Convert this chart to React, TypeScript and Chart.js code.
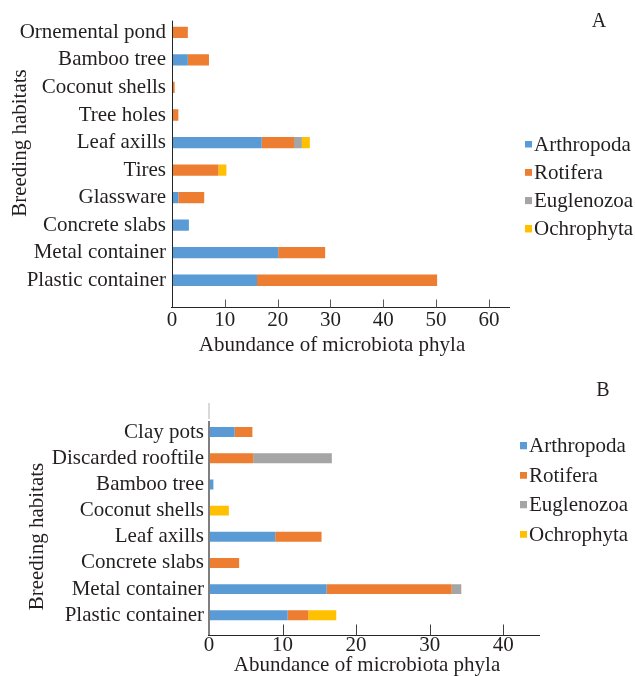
import React, { useEffect, useRef } from 'react';
import { Chart, registerables } from 'chart.js';

Chart.register(...registerables);

// ---------- data ----------
const phyla = ['Arthropoda', 'Rotifera', 'Euglenozoa', 'Ochrophyta'];
const phylumColors = ['#5B9BD5', '#ED7D31', '#A5A5A5', '#FFC000'];

const habitatsA = ['Ornemental pond', 'Bamboo tree', 'Coconut shells', 'Tree holes', 'Leaf axills', 'Tires', 'Glassware', 'Concrete slabs', 'Metal container', 'Plastic container'];
const arthropodaA = [0, 3, 0, 0, 17, 0, 1.2, 3.2, 20.1, 16.1];
const rotiferaA = [3, 4, 0.5, 1.2, 6.1, 8.8, 4.9, 0, 8.9, 34.1];
const euglenozoaA = [0, 0, 0, 0, 1.5, 0, 0, 0, 0, 0];
const ochrophytaA = [0, 0, 0, 0, 1.5, 1.5, 0, 0, 0, 0];
const xTicksA = [0, 10, 20, 30, 40, 50, 60];

const habitatsB = ['Clay pots', 'Discarded rooftile', 'Bamboo tree', 'Coconut shells', 'Leaf axills', 'Concrete slabs', 'Metal container', 'Plastic container'];
const arthropodaB = [3.5, 0, 0.6, 0, 9, 0, 16, 10.7];
const rotiferaB = [2.4, 6, 0, 0, 6.3, 4.1, 17, 2.8];
const euglenozoaB = [0, 10.7, 0, 0, 0, 0, 1.3, 0];
const ochrophytaB = [0, 0, 0, 2.7, 0, 0, 0, 3.8];
const xTicksB = [0, 10, 20, 30, 40];

const yTitle = 'Breeding habitats';
const xTitle = 'Abundance of microbiota phyla';

// ---------- styling ----------
const FONT = "'Liberation Serif', 'Times New Roman', serif";
const TEXT = '#231F20';
Chart.defaults.font.family = FONT;
Chart.defaults.color = TEXT;

// small square legend marker, sitting right next to the label text
function markerImage(color: string) {
  const c = document.createElement('canvas');
  c.width = 20;
  c.height = 9;
  const g = c.getContext('2d') as CanvasRenderingContext2D;
  g.fillStyle = color;
  g.fillRect(12, 0, 7, 7);
  return c;
}

// places the legend at an exact spot
const legendPlace = {
  id: 'legendPlace',
  afterLayout(chart: any, _a: any, opts: any) {
    const l = chart.legend;
    if (!l) return;
    l.left = opts.left;
    l.top = opts.top;
    l.right = chart.width;
    l.bottom = chart.height;
    l.width = l.right - l.left;
    l.height = l.bottom - l.top;
  },
};

// Excel-like axes: y axis line, x axis line slightly below the plot, inward tick marks,
// axis titles and panel letter
const excelAxes = {
  id: 'excelAxes',
  afterDraw(chart: any, _a: any, opts: any) {
    const { ctx, chartArea, scales } = chart;
    const xs = scales.x;
    const axisY = Math.round(chartArea.bottom + opts.gap) + 0.5;
    const yx = Math.round(chartArea.left) + (opts.yWidth % 2 ? 0.5 : 0);
    ctx.save();
    if (opts.lightTop) {
      ctx.strokeStyle = opts.lightColor;
      ctx.lineWidth = opts.yWidth;
      ctx.beginPath();
      ctx.moveTo(yx, chartArea.top - opts.lightTop);
      ctx.lineTo(yx, chartArea.top);
      ctx.stroke();
    }
    ctx.strokeStyle = opts.yColor;
    ctx.lineWidth = opts.yWidth;
    ctx.beginPath();
    ctx.moveTo(yx, chartArea.top + opts.yStart);
    ctx.lineTo(yx, axisY);
    ctx.stroke();

    ctx.strokeStyle = opts.xColor;
    ctx.lineWidth = 1;
    ctx.beginPath();
    ctx.moveTo(chartArea.left - 1, axisY);
    ctx.lineTo(chartArea.right, axisY);
    ctx.stroke();

    ctx.strokeStyle = opts.tickColor;
    ctx.lineWidth = 1;
    xs.ticks.forEach((t: any) => {
      if (t.value === 0) return;
      const px = Math.round(xs.getPixelForValue(t.value)) + 0.5;
      ctx.beginPath();
      ctx.moveTo(px, axisY);
      ctx.lineTo(px, axisY - opts.tickLen);
      ctx.stroke();
    });

    ctx.fillStyle = TEXT;
    ctx.textAlign = 'center';
    ctx.textBaseline = 'middle';
    ctx.font = `20px ${FONT}`;
    ctx.fillText(opts.letter, opts.letterX, opts.letterY);

    ctx.font = `21px ${FONT}`;
    ctx.fillText(xTitle, opts.xTitleX, opts.xTitleY);

    ctx.translate(opts.yTitleX, opts.yTitleY);
    ctx.rotate(-Math.PI / 2);
    ctx.fillText(yTitle, 0, 0);
    ctx.restore();
  },
};

function makeConfig(p: any) {
  const series = [p.arth, p.roti, p.eugl, p.ochr];
  const markers = phylumColors.map(markerImage);
  return {
    type: 'bar',
    data: {
      labels: p.labels,
      datasets: phyla.map((name, i) => ({
        label: name,
        data: series[i],
        backgroundColor: phylumColors[i],
        borderColor: phylumColors[i],
        borderWidth: 0,
        barPercentage: p.barPct,
        categoryPercentage: 1,
      })),
    },
    plugins: [legendPlace, excelAxes],
    options: {
      indexAxis: 'y',
      responsive: false,
      animation: false,
      layout: { padding: p.padding },
      scales: {
        x: {
          stacked: true,
          min: 0,
          max: p.xMax,
          grid: { display: false, drawTicks: false },
          border: { display: false },
          ticks: { font: { size: 21 }, color: TEXT, padding: p.xTickPad, maxRotation: 0, includeBounds: false },
          afterBuildTicks: (s: any) => { s.ticks = p.xTicks.map((v: number) => ({ value: v })); },
          afterFit: (s: any) => { s.height = p.xHeight; },
          title: { display: false },
        },
        y: {
          stacked: true,
          grid: { display: false, drawTicks: false },
          border: { display: false },
          ticks: { font: { size: 21 }, color: TEXT, padding: p.yTickPad, autoSkip: false },
          afterFit: (s: any) => { s.width = p.yWidth; },
          title: { display: false },
        },
      },
      plugins: {
        title: { display: false },
        tooltip: { enabled: false },
        legend: {
          position: 'chartArea',
          align: 'start',
          labels: {
            usePointStyle: true,
            boxWidth: 1,
            boxHeight: 7,
            padding: p.legendPad,
            font: { size: 21 },
            color: TEXT,
            generateLabels: (chart: any) =>
              Chart.defaults.plugins.legend.labels.generateLabels(chart).map((it: any, i: number) => ({
                ...it,
                pointStyle: markers[i],
              })),
          },
        },
        legendPlace: { left: p.legendLeft, top: p.legendTop },
        excelAxes: p.axes,
      },
    },
  };
}

const panelA = {
  labels: habitatsA, arth: arthropodaA, roti: rotiferaA, eugl: euglenozoaA, ochr: ochrophytaA,
  xTicks: xTicksA, xMax: 64, barPct: 0.41,
  padding: { top: 18, right: 125, bottom: 2, left: 0 },
  xHeight: 64, xTickPad: 13.4,
  yWidth: 172, yTickPad: 6,
  legendPad: 7.3, legendLeft: 515.2, legendTop: 127.2,
  axes: {
    gap: 13, yWidth: 1, yColor: '#262626', yStart: 2, xColor: '#262626', tickColor: '#595959', tickLen: 8,
    letter: 'A', letterX: 599, letterY: 21.5,
    xTitleX: 332, xTitleY: 345, yTitleX: 20, yTitleY: 143,
  },
};

const panelB = {
  labels: habitatsB, arth: arthropodaB, roti: rotiferaB, eugl: euglenozoaB, ochr: ochrophytaB,
  xTicks: xTicksB, xMax: 45, barPct: 0.38,
  padding: { top: 54, right: 95, bottom: 0, left: 0 },
  xHeight: 47.6, xTickPad: 4,
  yWidth: 209, yTickPad: 5,
  legendPad: 8.5, legendLeft: 509, legendTop: 62.7,
  axes: {
    gap: 6.6, yWidth: 2, yColor: '#7F7F7F', yStart: 2, lightTop: 16, lightColor: '#D9D9D9', xColor: '#262626', tickColor: '#404040', tickLen: 11,
    letter: 'B', letterX: 603, letterY: 26,
    xTitleX: 367, xTitleY: 300, yTitleX: 37, yTitleY: 171.5,
  },
};

function Panel({ params, top, height }: { params: any; top: number; height: number }) {
  const ref = useRef<HTMLCanvasElement>(null);
  useEffect(() => {
    const chart = new Chart(ref.current as HTMLCanvasElement, makeConfig(params) as any);
    return () => chart.destroy();
  }, [params]);
  return (
    <canvas
      ref={ref}
      width={635}
      height={height}
      style={{ position: 'absolute', left: 0, top, width: 635, height, display: 'block' }}
    />
  );
}

export default function App() {
  return (
    <div style={{ position: 'absolute', left: 0, top: 0, width: 635, height: 676, background: '#fff', overflow: 'hidden' }}>
      <Panel params={panelA} top={0} height={360} />
      <Panel params={panelB} top={365} height={311} />
    </div>
  );
}
